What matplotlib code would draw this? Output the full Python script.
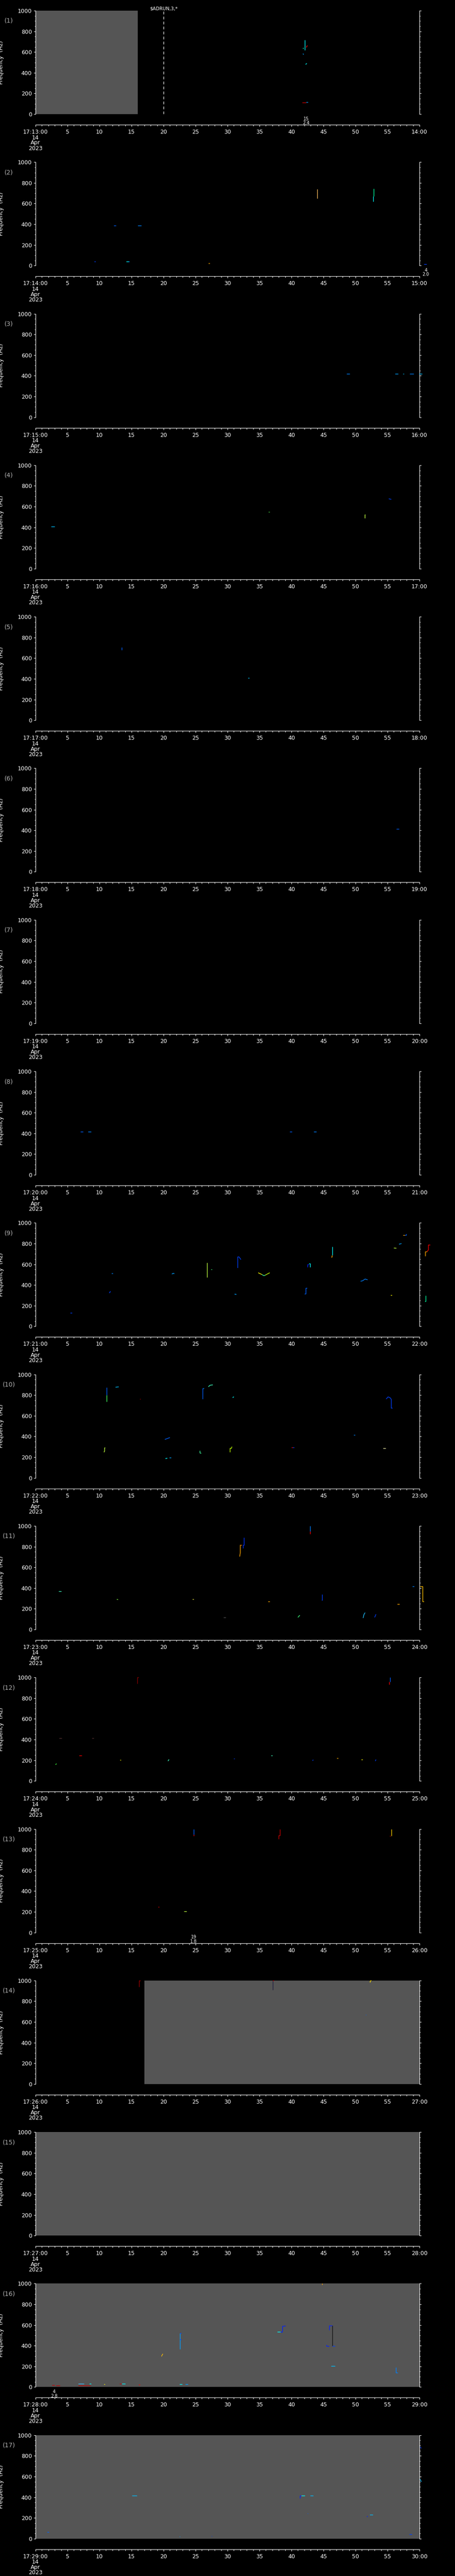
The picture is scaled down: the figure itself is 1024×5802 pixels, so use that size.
import numpy as np
import matplotlib.pyplot as plt
from matplotlib.ticker import MultipleLocator, FixedLocator

W, H = 1024, 5802
N_PANELS = 17
BLOCK = H / N_PANELS

# minute of each panel (17:13 ... 17:29)
start_minutes = list(range(13, 30))
date_lines = ['14', 'Apr', '2023']

# (panel, t0, t1) seconds with no data (grey)
grey_spans = [(1, 0, 16), (14, 17, 60), (15, 0, 60), (16, 0, 60), (17, 0, 60)]

# event annotations below the axes: (panel, t, count, value)
events = [(1, 42.3, '15', '2.4'), (2, 61.0, '4', '2.0'),
          (13, 24.7, '19', '1.8'), (16, 2.9, '4', '2.8')]

# command marker: (panel, t, text)
markers = [(1, 20.0, r'\$ADRUN,3,*')]

# pitch tracks per panel: (times s, freqs Hz, colour)
tracks_p1 = [
    ([42.1, 42.1], [716, 616], 'cyan'),
    ([41.8, 41.9], [632, 640], '#00ffc0'),
    ([42.3, 42.5], [645, 663], 'red'),
    ([41.8, 41.9], [585, 575], '#00a0ff'),
    ([42.2, 42.4], [480, 490], 'cyan'),
    ([41.7, 42.3], [113, 113], '#d00000'),
    ([42.3, 42.6], [114, 114], '#00a0ff'),
]
tracks_p2 = [
    ([44.05, 44.05], [740, 651], '#ffc060'),
    ([52.75, 52.75], [621, 670], 'cyan'),
    ([52.85, 52.85], [670, 744], '#00ffa0'),
    ([12.2, 12.6], [387, 387], '#0060ff'),
    ([16.0, 16.5], [387, 387], '#0080ff'),
    ([9.2, 9.4], [40, 40], '#0040ff'),
    ([14.2, 14.6], [40, 40], 'cyan'),
    ([14.6, 14.7], [40, 35], '#0060ff'),
    ([27.0, 27.2], [23, 23], 'orange'),
    ([60.7, 61.1], [14, 14], '#0040ff'),
]
tracks_p3 = [
    ([48.6, 49.1], [419, 419], '#0080ff'),
    ([56.2, 56.7], [419, 419], '#00a0ff'),
    ([57.4, 57.6], [419, 419], '#00c0ff'),
    ([58.5, 59.1], [419, 419], '#0080ff'),
    ([59.9, 60.4], [419, 419], '#00c0ff'),
]
tracks_p4 = [
    ([2.4, 3.0], [408, 408], '#00c0ff'),
    ([36.4, 36.6], [549, 549], '#40c040'),
    ([51.45, 51.45, 51.55], [490, 521, 521], '#c0ff40'),
    ([55.2, 55.6], [676, 670], '#0040ff'),
]
tracks_p5 = [
    ([13.5, 13.5], [680, 705], '#0060ff'),
    ([33.2, 33.4], [410, 410], '#00c0ff'),
]
tracks_p6 = [([56.4, 56.8], [416, 416], '#0060ff')]
tracks_p7 = []
tracks_p8 = [
    ([7.0, 7.4], [416, 416], '#0060ff'),
    ([8.2, 8.7], [416, 416], '#0080ff'),
    ([39.7, 40.1], [416, 416], '#0060ff'),
    ([43.5, 43.9], [416, 416], '#0080ff'),
]
tracks_p9 = [
    ([5.4, 5.7], [132, 132], '#0040ff'),
    ([11.5, 11.6, 11.7], [325, 325, 340], '#0040ff'),
    ([11.9, 12.1], [514, 514], '#0080ff'),
    ([21.3, 21.5, 21.7], [505, 512, 510], '#00a0ff'),
    ([26.8, 26.8], [475, 614], '#c0ff40'),
    ([27.4, 27.6], [553, 553], '#40ff80'),
    ([31.6, 31.6, 31.8, 32.1], [564, 671, 671, 645], '#0040ff'),
    ([31.1, 31.4], [311, 308], '#00a0ff'),
    ([34.8, 35.4], [518, 500], 'yellow'),
    ([35.4, 35.7, 35.9], [500, 489, 495], '#40ffa0'),
    ([35.9, 36.6], [495, 518], '#c0ff00'),
    ([42.0, 42.2, 42.2, 42.4], [314, 314, 371, 371], '#0060ff'),
    ([42.5, 42.5, 42.7], [571, 600, 600], '#0020ff'),
    ([42.7, 42.9, 42.9], [607, 607, 571], 'cyan'),
    ([46.2, 46.3, 46.3], [671, 671, 690], 'orange'),
    ([46.4, 46.4], [690, 771], 'cyan'),
    ([50.8, 51.1, 51.5, 51.9], [436, 440, 457, 450], '#0080ff'),
    ([55.5, 55.7], [300, 300], 'yellow'),
    ([56.0, 56.4], [757, 755], '#c0ff40'),
    ([56.8, 57.2], [794, 800], '#00a0ff'),
    ([57.4, 57.7], [882, 882], 'orange'),
    ([57.7, 57.9, 57.9], [882, 882, 893], '#0060ff'),
    ([60.9, 60.9, 61.2], [679, 722, 722], 'orange'),
    ([61.2, 61.4, 61.4, 61.7], [722, 740, 786, 786], 'red'),
    ([60.8, 61.0, 61.0], [243, 243, 296], '#00ffa0'),
]
tracks_p10 = [
    ([11.1, 11.1], [735, 800], '#40ff60'),
    ([11.1, 11.1], [800, 872], '#0060ff'),
    ([12.5, 13.0], [876, 880], '#00c0ff'),
    ([16.3, 16.4], [762, 762], 'red'),
    ([26.1, 26.1], [762, 866], '#0060ff'),
    ([26.1, 26.3], [866, 866], '#0080ff'),
    ([27.0, 27.3, 27.7], [881, 896, 899], '#40ffc0'),
    ([30.8, 31.0], [776, 784], 'cyan'),
    ([54.8, 55.1, 55.4, 55.6, 55.6, 55.8], [762, 783, 775, 759, 674, 674], '#0040ff'),
    ([49.7, 49.9], [415, 415], '#0080ff'),
    ([10.7, 10.8, 10.8, 10.9], [247, 262, 290, 290], '#c0ff40'),
    ([20.2, 20.6, 21.0], [372, 380, 390], '#0060ff'),
    ([20.3, 20.6], [186, 190], 'cyan'),
    ([20.9, 21.2], [195, 195], '#00a0ff'),
    ([25.7, 25.7, 25.9], [262, 240, 238], '#40ffa0'),
    ([30.4, 30.4, 30.6, 30.7], [247, 285, 285, 302], '#c0ff00'),
    ([40.0, 40.2], [293, 293], 'red'),
    ([40.2, 40.4], [293, 293], '#0040ff'),
    ([54.3, 54.7], [287, 287], '#e0e0a0'),
]
tracks_p11 = [
    ([3.6, 4.0], [369, 369], '#40ffc0'),
    ([12.7, 12.9], [290, 288], '#80ff40'),
    ([24.5, 24.7], [290, 290], '#e0e040'),
    ([29.4, 29.7], [116, 116], '#505050'),
    ([36.3, 36.6], [268, 268], 'orange'),
    ([31.9, 32.0, 32.0], [704, 740, 817], 'orange'),
    ([32.0, 32.2], [817, 817], '#ff8000'),
    ([32.4, 32.4, 32.6, 32.6], [787, 817, 817, 887], '#0030ff'),
    ([42.9, 42.9], [924, 950], 'red'),
    ([42.9, 42.9], [950, 1000], '#0080ff'),
    ([41.0, 41.3], [116, 137], '#40ff80'),
    ([44.7, 44.8, 44.8], [284, 284, 338], '#0040ff'),
    ([51.2, 51.3, 51.5], [110, 140, 162], '#20c0ff'),
    ([53.0, 53.2], [116, 146], '#0040ff'),
    ([56.5, 56.9], [244, 244], 'orange'),
    ([58.9, 59.2], [415, 415], '#0080ff'),
    ([60.1, 60.5, 60.5, 60.7], [415, 415, 271, 271], '#ffc000'),
]
tracks_p12 = [
    ([15.9, 15.9, 16.1], [939, 1000, 1000], 'darkred'),
    ([55.3, 55.3], [933, 960], 'red'),
    ([55.4, 55.4], [960, 1000], '#0060ff'),
    ([3.7, 4.1], [415, 415], '#503030'),
    ([8.8, 9.1], [415, 415], '#503030'),
    ([6.8, 7.2], [244, 244], 'red'),
    ([3.1, 3.3], [158, 166], '#40ff40'),
    ([13.2, 13.3], [204, 204], 'yellow'),
    ([20.7, 20.8, 20.9], [192, 204, 204], '#40ffc0'),
    ([31.0, 31.1], [216, 216], '#0040ff'),
    ([36.8, 37.0], [244, 244], '#40ffc0'),
    ([43.3, 43.4], [195, 205], '#0040ff'),
    ([47.1, 47.3], [219, 219], 'orange'),
    ([50.9, 51.1], [207, 207], 'yellow'),
    ([53.1, 53.2], [192, 207], '#0040ff'),
]
tracks_p13 = [
    ([24.7, 24.7], [932, 945], 'red'),
    ([24.75, 24.75], [945, 1000], '#0060ff'),
    ([38.0, 38.0, 38.2, 38.2], [904, 940, 940, 1000], '#c00000'),
    ([55.4, 55.5], [930, 932], 'red'),
    ([55.6, 55.6], [932, 1000], '#ffd000'),
    ([19.2, 19.3], [248, 248], 'red'),
    ([23.2, 23.6], [203, 203], '#c0ff40'),
]
tracks_p14 = [
    ([16.2, 16.2, 16.4], [938, 1000, 1000], '#a00000'),
    ([37.1, 37.1], [910, 1000], '#202040'),
    ([37.1, 37.2], [1000, 1000], 'red'),
    ([52.3, 52.3, 52.5], [980, 995, 1000], '#ffe000'),
    ([51.6, 51.7], [669, 669], '#0060ff'),
]
tracks_p15 = []
tracks_p16 = [
    ([44.8, 44.8], [990, 1000], 'orange'),
    ([22.6, 22.6], [365, 522], '#00a0ff'),
    ([22.6, 22.8], [522, 522], '#0040ff'),
    ([22.6, 22.8], [460, 455], '#0040ff'),
    ([19.7, 19.7, 19.9], [296, 300, 321], '#ffc000'),
    ([37.8, 38.3], [535, 535], 'cyan'),
    ([38.3, 38.5, 38.6, 38.6, 39.1], [535, 528, 535, 587, 590], '#0020ff'),
    ([45.5, 45.5, 45.9], [407, 395, 393], '#0020ff'),
    ([45.9, 45.9, 46.4], [551, 593, 593], '#0020ff'),
    ([46.4, 46.4], [593, 397], '#101010'),
    ([46.4, 46.8], [395, 395], '#0040ff'),
    ([46.2, 46.8], [205, 205], '#00c0ff'),
    ([56.3, 56.3, 56.6], [192, 140, 140], '#0080ff'),
    ([2.6, 3.0], [21, 21], '#c00000'),
    ([3.2, 3.8], [13, 13], '#c00000'),
    ([6.7, 7.6], [33, 33], '#40c0ff'),
    ([6.7, 8.6], [13, 13], '#c00000'),
    ([8.4, 8.7], [33, 33], 'cyan'),
    ([10.7, 10.8], [27, 27], 'yellow'),
    ([13.1, 13.5], [32, 32], '#c00000'),
    ([13.5, 14.0], [32, 32], 'cyan'),
    ([16.1, 16.3], [25, 25], 'red'),
    ([22.5, 22.9], [29, 29], 'cyan'),
    ([23.4, 23.8], [29, 29], '#00a0ff'),
]
tracks_p17 = [
    ([60.1, 60.3], [885, 873], '#0040ff'),
    ([60.1, 60.3], [574, 549], '#00c0ff'),
    ([15.1, 15.8], [416, 416], '#00c0ff'),
    ([41.3, 41.3, 41.5], [390, 416, 416], '#0020ff'),
    ([41.5, 42.1], [416, 416], 'cyan'),
    ([42.9, 43.4], [416, 416], '#00c0ff'),
    ([42.5, 42.6], [244, 244], '#0060ff'),
    ([51.8, 51.9], [209, 217], '#0020ff'),
    ([52.2, 52.7], [232, 232], '#00c0ff'),
    ([1.8, 2.1], [65, 65], '#0060ff'),
    ([22.5, 22.6], [19, 19], '#00a0ff'),
    ([27.5, 27.6], [23, 23], '#0040ff'),
    ([58.4, 58.8], [40, 40], '#0040ff'),
]

all_tracks = [tracks_p1, tracks_p2, tracks_p3, tracks_p4, tracks_p5, tracks_p6,
              tracks_p7, tracks_p8, tracks_p9, tracks_p10, tracks_p11, tracks_p12,
              tracks_p13, tracks_p14, tracks_p15, tracks_p16, tracks_p17]

GREY = '#555555'
FS = 9


def px_axes(fig, left, top, width, height):
    return fig.add_axes([left / W, 1 - (top + height) / H, width / W, height / H])


def plot_panel(fig, i):
    top = i * BLOCK
    minute = start_minutes[i]

    # spectrogram-like track area
    ax = px_axes(fig, 80, top + 24, 864, 233)
    ax.set_facecolor('black')
    ax.set_xlim(0, 60)
    ax.set_ylim(0, 1000)
    for s in ['top', 'bottom']:
        ax.spines[s].set_visible(False)
    for s in ['left', 'right']:
        ax.spines[s].set_color('white')
        ax.spines[s].set_linewidth(0.8)
    ax.set_xticks([])
    ax.yaxis.set_major_locator(MultipleLocator(200))
    ax.yaxis.set_minor_locator(MultipleLocator(50))
    ax.tick_params(axis='y', which='both', direction='out', colors='white',
                   left=True, right=True, labelleft=True, labelright=False,
                   width=0.8, labelsize=FS, pad=3)
    ax.tick_params(axis='y', which='major', length=3)
    ax.tick_params(axis='y', which='minor', length=1.6)
    ax.set_ylabel('Frequency  (Hz)', color='white', fontsize=FS, labelpad=22)

    for p, t0, t1 in grey_spans:
        if p == i + 1:
            ax.axvspan(t0, t1, color=GREY, lw=0, zorder=0)

    for ts, fs, c in all_tracks[i]:
        ax.plot(ts, fs, color=c, lw=1.0, solid_capstyle='butt', clip_on=False, zorder=3)

    for p, t, txt in markers:
        if p == i + 1:
            ax.axvline(t, color='white', lw=0.9, dashes=(5, 4), zorder=4)
            ax.text(t, 1000, txt, color='white', fontsize=7.5, ha='center',
                    va='bottom', transform=ax.transData)

    for p, t, n, v in events:
        if p == i + 1:
            ax.annotate(n + '\n' + v, xy=(t, 0), xytext=(0, -4),
                        textcoords='offset points', ha='center', va='top',
                        color='white', fontsize=7, linespacing=0.95,
                        annotation_clip=False)

    # panel number
    fig.text(20 / W, 1 - (top + 47) / H, f'({i + 1})', color='#b0b0b0',
             fontsize=10, ha='center', va='center')

    # separate time axis
    axt = px_axes(fig, 80, top + 279, 864, 2)
    axt.set_facecolor('none')
    axt.set_xlim(0, 60)
    axt.set_yticks([])
    for s in ['top', 'left', 'right']:
        axt.spines[s].set_visible(False)
    axt.spines['bottom'].set_color('white')
    axt.spines['bottom'].set_linewidth(0.8)
    major = list(range(0, 61, 5))
    labels = [f'17:{minute:02d}:00'] + [str(m) for m in major[1:-1]] + [f'{minute + 1:02d}:00']
    axt.xaxis.set_major_locator(FixedLocator(major))
    axt.set_xticklabels(labels)
    axt.xaxis.set_minor_locator(MultipleLocator(1))
    axt.tick_params(axis='x', which='both', direction='out', colors='white',
                    width=0.8, labelsize=FS, pad=4)
    axt.tick_params(axis='x', which='major', length=3.2)
    axt.tick_params(axis='x', which='minor', length=2)

    for k, line in enumerate(date_lines):
        fig.text(80 / W, 1 - (top + 310 + 12 * k) / H, line, color='white',
                 fontsize=FS, ha='center', va='center')


fig = plt.figure(figsize=(W / 100, H / 100), dpi=100, facecolor='black')
for i in range(N_PANELS):
    plot_panel(fig, i)

fig.savefig('out.png', dpi=100, facecolor='black')
